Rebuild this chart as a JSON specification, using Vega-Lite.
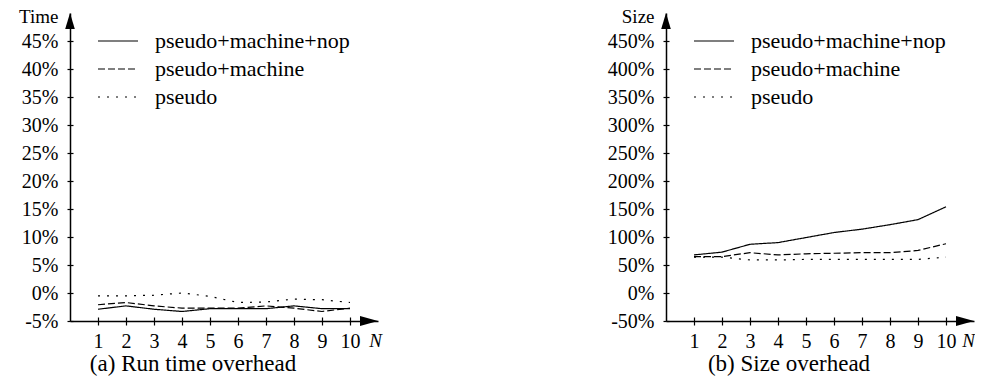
{
  "$schema": "https://vega.github.io/schema/vega-lite/v6.json",
  "background": "white",
  "padding": {"left": 18, "top": 7, "right": 0, "bottom": 0},
  "config": {
    "view": {"stroke": null},
    "font": "Liberation Serif",
    "concat": {"spacing": 225},
    "axis": {
      "labelFont": "Liberation Serif", "titleFont": "Liberation Serif",
      "labelColor": "black", "titleColor": "black", "domainColor": "black", "tickColor": "black",
      "grid": false, "labelFontSize": 20, "titleFontSize": 19, "titleFontWeight": "normal",
      "domainWidth": 1.5, "tickWidth": 1.2
    },
    "legend": {
      "orient": "none", "legendX": 27, "legendY": 14, "title": null,
      "symbolType": "stroke", "symbolSize": 1600, "symbolStrokeWidth": 1.2, "symbolStrokeColor": "black",
      "labelFontSize": 22, "labelFont": "Liberation Serif", "labelColor": "black", "labelLimit": 400,
      "labelOffset": 16, "clipHeight": 28, "rowPadding": 0, "padding": 0
    },
    "title": {"font": "Liberation Serif", "fontSize": 23, "fontWeight": "normal", "color": "black"}
  },
  "datasets": {
    "time": [
      {"N": 1, "series": "pseudo+machine+nop", "value": -2.9},
      {"N": 2, "series": "pseudo+machine+nop", "value": -2.3},
      {"N": 3, "series": "pseudo+machine+nop", "value": -2.9},
      {"N": 4, "series": "pseudo+machine+nop", "value": -3.3},
      {"N": 5, "series": "pseudo+machine+nop", "value": -2.8},
      {"N": 6, "series": "pseudo+machine+nop", "value": -2.8},
      {"N": 7, "series": "pseudo+machine+nop", "value": -2.8},
      {"N": 8, "series": "pseudo+machine+nop", "value": -2.3},
      {"N": 9, "series": "pseudo+machine+nop", "value": -2.8},
      {"N": 10, "series": "pseudo+machine+nop", "value": -2.8},
      {"N": 1, "series": "pseudo+machine", "value": -2.1},
      {"N": 2, "series": "pseudo+machine", "value": -1.7},
      {"N": 3, "series": "pseudo+machine", "value": -2.3},
      {"N": 4, "series": "pseudo+machine", "value": -2.7},
      {"N": 5, "series": "pseudo+machine", "value": -2.7},
      {"N": 6, "series": "pseudo+machine", "value": -2.7},
      {"N": 7, "series": "pseudo+machine", "value": -2.3},
      {"N": 8, "series": "pseudo+machine", "value": -2.7},
      {"N": 9, "series": "pseudo+machine", "value": -3.3},
      {"N": 10, "series": "pseudo+machine", "value": -2.7},
      {"N": 1, "series": "pseudo", "value": -0.5},
      {"N": 2, "series": "pseudo", "value": -0.5},
      {"N": 3, "series": "pseudo", "value": -0.4},
      {"N": 4, "series": "pseudo", "value": 0.0},
      {"N": 5, "series": "pseudo", "value": -0.6},
      {"N": 6, "series": "pseudo", "value": -1.7},
      {"N": 7, "series": "pseudo", "value": -1.6},
      {"N": 8, "series": "pseudo", "value": -1.1},
      {"N": 9, "series": "pseudo", "value": -1.2},
      {"N": 10, "series": "pseudo", "value": -1.7}
    ],
    "size": [
      {"N": 1, "series": "pseudo+machine+nop", "value": 68},
      {"N": 2, "series": "pseudo+machine+nop", "value": 73},
      {"N": 3, "series": "pseudo+machine+nop", "value": 87},
      {"N": 4, "series": "pseudo+machine+nop", "value": 90},
      {"N": 5, "series": "pseudo+machine+nop", "value": 99},
      {"N": 6, "series": "pseudo+machine+nop", "value": 108},
      {"N": 7, "series": "pseudo+machine+nop", "value": 114},
      {"N": 8, "series": "pseudo+machine+nop", "value": 122},
      {"N": 9, "series": "pseudo+machine+nop", "value": 131},
      {"N": 10, "series": "pseudo+machine+nop", "value": 154},
      {"N": 1, "series": "pseudo+machine", "value": 65},
      {"N": 2, "series": "pseudo+machine", "value": 65},
      {"N": 3, "series": "pseudo+machine", "value": 72},
      {"N": 4, "series": "pseudo+machine", "value": 68},
      {"N": 5, "series": "pseudo+machine", "value": 70},
      {"N": 6, "series": "pseudo+machine", "value": 71},
      {"N": 7, "series": "pseudo+machine", "value": 72},
      {"N": 8, "series": "pseudo+machine", "value": 72},
      {"N": 9, "series": "pseudo+machine", "value": 76},
      {"N": 10, "series": "pseudo+machine", "value": 88},
      {"N": 1, "series": "pseudo", "value": 64},
      {"N": 2, "series": "pseudo", "value": 64},
      {"N": 3, "series": "pseudo", "value": 59},
      {"N": 4, "series": "pseudo", "value": 59},
      {"N": 5, "series": "pseudo", "value": 60},
      {"N": 6, "series": "pseudo", "value": 60},
      {"N": 7, "series": "pseudo", "value": 60},
      {"N": 8, "series": "pseudo", "value": 60},
      {"N": 9, "series": "pseudo", "value": 60},
      {"N": 10, "series": "pseudo", "value": 64}
    ]
  },
  "hconcat": [
    {
      "width": 308, "height": 308,
      "title": {"text": "(a) Run time overhead", "orient": "bottom", "anchor": "middle", "dx": -31, "offset": 2},
      "layer": [
        {
          "data": {"name": "time"},
          "mark": {"type": "line", "color": "black", "strokeWidth": 1.2},
          "encoding": {
            "x": {"field": "N", "type": "quantitative",
              "scale": {"domain": [0, 11], "nice": false, "zero": false},
              "axis": {"orient": "bottom", "values": [1,2,3,4,5,6,7,8,9,10], "title": "N", "titleFontStyle": "italic",
                "titleX": 305, "titleY": 19, "titleAlign": "center", "titleBaseline": "middle",
                "tickSize": 4, "labelPadding": 6, "labelFlush": false, "labelOverlap": false}},
            "y": {"field": "value", "type": "quantitative",
              "scale": {"domain": [-5, 50], "nice": false, "zero": false},
              "axis": {"orient": "left", "values": [-5,0,5,10,15,20,25,30,35,40,45], "labelExpr": "datum.value + '%'",
                "title": "Time", "titleAngle": 0, "titleAlign": "right", "titleBaseline": "middle",
                "titleX": -12, "titleY": 3, "tickSize": 3, "labelPadding": 9, "labelOverlap": false}},
            "strokeDash": {"field": "series", "type": "nominal",
              "scale": {"domain": ["pseudo+machine+nop", "pseudo+machine", "pseudo"], "range": [[1,0],[7,3],[2,7]]},
              "legend": {}}
          }
        },
        {
          "data": {"values": [{}]},
          "mark": {"type": "point", "shape": "M0,0L0.6,2L-0.6,2Z", "filled": true, "color": "black", "size": 256, "opacity": 1},
          "encoding": {
            "x": {"datum": 0, "type": "quantitative",
              "axis": {"orient": "bottom", "values": [1,2,3,4,5,6,7,8,9,10], "labels": false, "domain": false, "title": null, "offset": -4, "tickSize": 4}},
            "y": {"datum": 50, "type": "quantitative",
              "axis": {"orient": "left", "values": [-5,0,5,10,15,20,25,30,35,40,45], "labels": false, "domain": false, "title": null, "offset": -3, "tickSize": 3}}
          }
        },
        {
          "data": {"values": [{}]},
          "mark": {"type": "point", "shape": "M0,0L-2,-0.55L-2,0.55Z", "filled": true, "color": "black", "size": 324, "opacity": 1},
          "encoding": {
            "x": {"datum": 11, "type": "quantitative", "axis": null},
            "y": {"datum": -5, "type": "quantitative", "axis": null}
          }
        }
      ],
      "resolve": {"axis": {"x": "independent", "y": "independent"}}
    },
    {
      "width": 308, "height": 308,
      "title": {"text": "(b) Size overhead", "orient": "bottom", "anchor": "middle", "dx": -31, "offset": 2},
      "layer": [
        {
          "data": {"name": "size"},
          "mark": {"type": "line", "color": "black", "strokeWidth": 1.2},
          "encoding": {
            "x": {"field": "N", "type": "quantitative",
              "scale": {"domain": [0, 11], "nice": false, "zero": false},
              "axis": {"orient": "bottom", "values": [1,2,3,4,5,6,7,8,9,10], "title": "N", "titleFontStyle": "italic",
                "titleX": 302, "titleY": 19, "titleAlign": "center", "titleBaseline": "middle",
                "tickSize": 4, "labelPadding": 6, "labelFlush": false, "labelOverlap": false}},
            "y": {"field": "value", "type": "quantitative",
              "scale": {"domain": [-50, 500], "nice": false, "zero": false},
              "axis": {"orient": "left", "values": [-50,0,50,100,150,200,250,300,350,400,450], "labelExpr": "datum.value + '%'",
                "title": "Size", "titleAngle": 0, "titleAlign": "right", "titleBaseline": "middle",
                "titleX": -12, "titleY": 3, "tickSize": 3, "labelPadding": 9, "labelOverlap": false}},
            "strokeDash": {"field": "series", "type": "nominal",
              "scale": {"domain": ["pseudo+machine+nop", "pseudo+machine", "pseudo"], "range": [[1,0],[7,3],[2,7]]},
              "legend": {}}
          }
        },
        {
          "data": {"values": [{}]},
          "mark": {"type": "point", "shape": "M0,0L0.6,2L-0.6,2Z", "filled": true, "color": "black", "size": 256, "opacity": 1},
          "encoding": {
            "x": {"datum": 0, "type": "quantitative",
              "axis": {"orient": "bottom", "values": [1,2,3,4,5,6,7,8,9,10], "labels": false, "domain": false, "title": null, "offset": -4, "tickSize": 4}},
            "y": {"datum": 500, "type": "quantitative",
              "axis": {"orient": "left", "values": [-50,0,50,100,150,200,250,300,350,400,450], "labels": false, "domain": false, "title": null, "offset": -3, "tickSize": 3}}
          }
        },
        {
          "data": {"values": [{}]},
          "mark": {"type": "point", "shape": "M0,0L-2,-0.55L-2,0.55Z", "filled": true, "color": "black", "size": 324, "opacity": 1},
          "encoding": {
            "x": {"datum": 11, "type": "quantitative", "axis": null},
            "y": {"datum": -50, "type": "quantitative", "axis": null}
          }
        }
      ],
      "resolve": {"axis": {"x": "independent", "y": "independent"}}
    }
  ],
  "resolve": {"scale": {"strokeDash": "independent"}, "legend": {"strokeDash": "independent"}}
}
